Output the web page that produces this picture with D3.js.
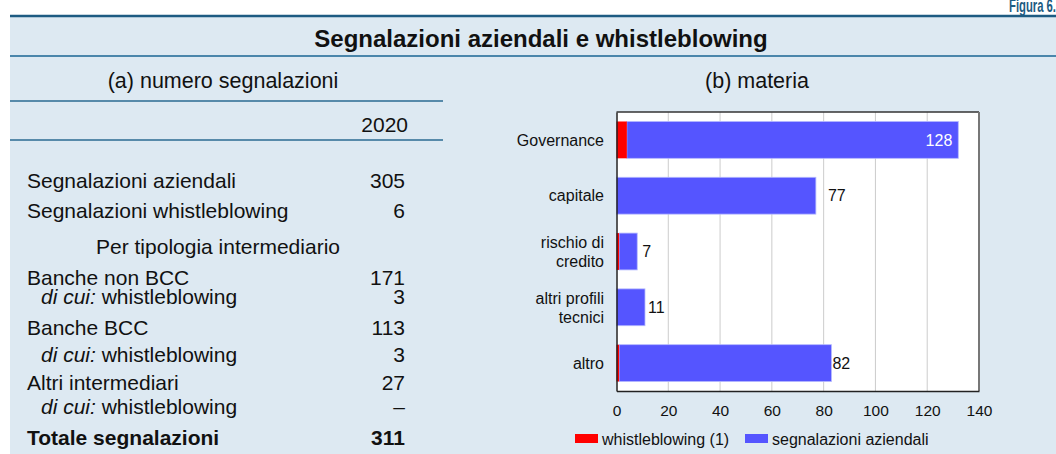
<!DOCTYPE html>
<html>
<head>
<meta charset="utf-8">
<script src="https://cdn.jsdelivr.net/npm/d3@7"></script>
<style>
  html, body { margin: 0; padding: 0; background: #ffffff; }
  svg { display: block; font-family: "Liberation Sans", Arial, Helvetica, sans-serif; }
</style>
</head>
<body>
<svg id="chart" width="1056" height="454"></svg>
<script>
// ---------------- DATA ----------------
const figureLabel = "Figura 6.";
const mainTitle = "Segnalazioni aziendali e whistleblowing";
const panelATitle = "(a) numero segnalazioni";
const panelBTitle = "(b) materia";
const tableYear = "2020";

// table rows: label, value, kind
const tableLabels = ["Segnalazioni aziendali", "Segnalazioni whistleblowing", "Per tipologia intermediario",
  "Banche non BCC", "whistleblowing", "Banche BCC", "whistleblowing", "Altri intermediari", "whistleblowing",
  "Totale segnalazioni"];
const tableValues = ["305", "6", "", "171", "3", "113", "3", "27", "\u2013", "311"];
const tableKinds = ["main", "main", "section", "main", "sub", "main", "sub", "main", "sub", "total"];

const categories = ["Governance", "capitale", "rischio di credito", "altri profili tecnici", "altro"];
const categoryLines = [["Governance"], ["capitale"], ["rischio di", "credito"], ["altri profili", "tecnici"], ["altro"]];
const whistleblowing = [4, 0, 1, 0, 1];
const aziendali = [128, 77, 7, 11, 82];
const xTicks = [0, 20, 40, 60, 80, 100, 120, 140];
const seriesNames = ["whistleblowing (1)", "segnalazioni aziendali"];
const seriesColors = ["#ff0000", "#5555ff"];

// ---------------- DRAW ----------------
const svg = d3.select("#chart");
const W = 1056, H = 454;

svg.append("rect").attr("x", 0).attr("y", 0).attr("width", W).attr("height", H).attr("fill", "#ffffff");
svg.append("rect").attr("x", 10).attr("y", 16).attr("width", W - 10).attr("height", H - 16).attr("fill", "#dde9f2");
svg.append("line").attr("x1", 10).attr("x2", W).attr("y1", 16).attr("y2", 16)
  .attr("stroke", "#1d5b82").attr("stroke-width", 2.5);
svg.append("line").attr("x1", 10).attr("x2", W).attr("y1", 56).attr("y2", 56)
  .attr("stroke", "#4a86ab").attr("stroke-width", 2);

svg.append("text").attr("x", 1009).attr("y", 12)
  .attr("font-weight", "bold").attr("font-size", 19).attr("fill", "#1d5b82")
  .attr("textLength", 47).attr("lengthAdjust", "spacingAndGlyphs")
  .text(figureLabel);

svg.append("text").attr("x", 541).attr("y", 47).attr("text-anchor", "middle")
  .attr("font-weight", "bold").attr("font-size", 24).attr("fill", "#111").text(mainTitle);

// ---- Panel A: table ----
const gA = svg.append("g");
const tfs = 21;
gA.append("text").attr("x", 223).attr("y", 88).attr("text-anchor", "middle")
  .attr("font-size", 21.5).attr("fill", "#111").text(panelATitle);
[101, 140].forEach(y => gA.append("line").attr("x1", 10).attr("x2", 443).attr("y1", y).attr("y2", y)
  .attr("stroke", "#2a6a92").attr("stroke-width", 1.5));
gA.append("text").attr("x", 408).attr("y", 132).attr("text-anchor", "end")
  .attr("font-size", tfs).attr("fill", "#111").text(tableYear);

const rowBaselines = [188, 218, 254, 285, 304, 335, 362, 390, 414, 445];
tableLabels.forEach((lab, i) => {
  const kind = tableKinds[i];
  const y = rowBaselines[i];
  if (kind === "section") {
    gA.append("text").attr("x", 218).attr("y", y).attr("text-anchor", "middle")
      .attr("font-size", tfs).attr("fill", "#111").text(lab);
    return;
  }
  const t = gA.append("text").attr("y", y).attr("font-size", tfs).attr("fill", "#111")
    .attr("font-weight", kind === "total" ? "bold" : "normal");
  if (kind === "sub") {
    t.attr("x", 41);
    t.append("tspan").attr("font-style", "italic").text("di cui:");
    t.append("tspan").text(" " + lab);
  } else {
    t.attr("x", 27).text(lab);
  }
  gA.append("text").attr("x", 405).attr("y", y).attr("text-anchor", "end")
    .attr("font-size", tfs).attr("fill", "#111")
    .attr("font-weight", kind === "total" ? "bold" : "normal").text(tableValues[i]);
});

// ---- Panel B: bar chart ----
svg.append("text").attr("x", 757).attr("y", 88).attr("text-anchor", "middle")
  .attr("font-size", 21.5).attr("fill", "#111").text(panelBTitle);

const plot = { left: 616.5, right: 979, top: 112, bottom: 391 };
const x = d3.scaleLinear().domain([0, 140]).range([plot.left, plot.right]);
const y = d3.scaleBand().domain(categories).range([plot.top, plot.bottom])
  .paddingInner(0.34).paddingOuter(0.17);

const gB = svg.append("g");
gB.append("rect").attr("x", plot.left).attr("y", plot.top)
  .attr("width", plot.right - plot.left).attr("height", plot.bottom - plot.top).attr("fill", "#ffffff");

// gridlines
gB.append("g").selectAll("line").data(xTicks.filter(t => t > 0 && t < 140)).join("line")
  .attr("x1", d => x(d)).attr("x2", d => x(d)).attr("y1", plot.top).attr("y2", plot.bottom)
  .attr("stroke", "#cccccc").attr("stroke-width", 1);

// bars
const stackData = categories.map((c, i) => ({ cat: c, w: whistleblowing[i], a: aziendali[i] }));
gB.append("g").selectAll("rect").data(stackData).join("rect")
  .attr("x", d => x(d.w)).attr("y", d => y(d.cat))
  .attr("width", d => x(d.w + d.a) - x(d.w)).attr("height", y.bandwidth())
  .attr("fill", seriesColors[1]).attr("stroke", "#b4b8ff").attr("stroke-width", 0.8);
gB.append("g").selectAll("rect").data(stackData.filter(d => d.w > 0)).join("rect")
  .attr("x", x(0)).attr("y", d => y(d.cat))
  .attr("width", d => x(d.w) - x(0)).attr("height", y.bandwidth())
  .attr("fill", seriesColors[0]);

// value labels (small per-row nudges to follow the reference placement)
const labelNudge = [-6, 12, 5, 3, 1];
gB.append("g").selectAll("text").data(stackData).join("text")
  .attr("x", (d, i) => x(d.w + d.a) + labelNudge[i])
  .attr("y", d => y(d.cat) + y.bandwidth() / 2)
  .attr("dy", "0.36em")
  .attr("text-anchor", d => d.a > 100 ? "end" : "start")
  .attr("font-size", 16)
  .attr("fill", d => d.a > 100 ? "#ffffff" : "#111")
  .text(d => d.a);

// frame
gB.append("line").attr("x1", plot.left).attr("x2", plot.right).attr("y1", plot.top).attr("y2", plot.top)
  .attr("stroke", "#333").attr("stroke-width", 1.5);
gB.append("line").attr("x1", plot.right).attr("x2", plot.right).attr("y1", plot.top).attr("y2", plot.bottom)
  .attr("stroke", "#777").attr("stroke-width", 2);

// x axis
const xAxis = d3.axisBottom(x).tickValues(xTicks).tickSize(0).tickPadding(14);
const ax = gB.append("g").attr("transform", `translate(0,${plot.bottom})`).call(xAxis);
ax.select(".domain").attr("stroke", "#222").attr("stroke-width", 1.5);
ax.selectAll("text").attr("font-size", 15.5).attr("fill", "#111")
  .attr("font-family", "'Liberation Sans', Arial, sans-serif");

// y axis
const yAxis = d3.axisLeft(y).tickSize(0).tickFormat("");
const ay = gB.append("g").attr("transform", `translate(${plot.left},0)`).call(yAxis);
ay.select(".domain").attr("stroke", "#222").attr("stroke-width", 1.5);

// category labels
categories.forEach((c, i) => {
  const lines = categoryLines[i];
  const cy = y(c) + y.bandwidth() / 2;
  const lh = 19;
  const t = gB.append("text").attr("x", 604).attr("text-anchor", "end")
    .attr("font-size", 16).attr("fill", "#111");
  lines.forEach((ln, k) => {
    t.append("tspan").attr("x", 604)
      .attr("y", cy + (k - (lines.length - 1) / 2) * lh)
      .attr("dy", "0.36em").text(ln);
  });
});

// legend
const legend = svg.append("g");
const legX = [575, 745];
seriesNames.forEach((n, i) => {
  legend.append("rect").attr("x", legX[i]).attr("y", 434).attr("width", 23).attr("height", 9)
    .attr("fill", seriesColors[i]);
  legend.append("text").attr("x", legX[i] + 27).attr("y", 444.5).attr("font-size", 16)
    .attr("fill", "#111").text(n);
});
</script>
</body>
</html>
